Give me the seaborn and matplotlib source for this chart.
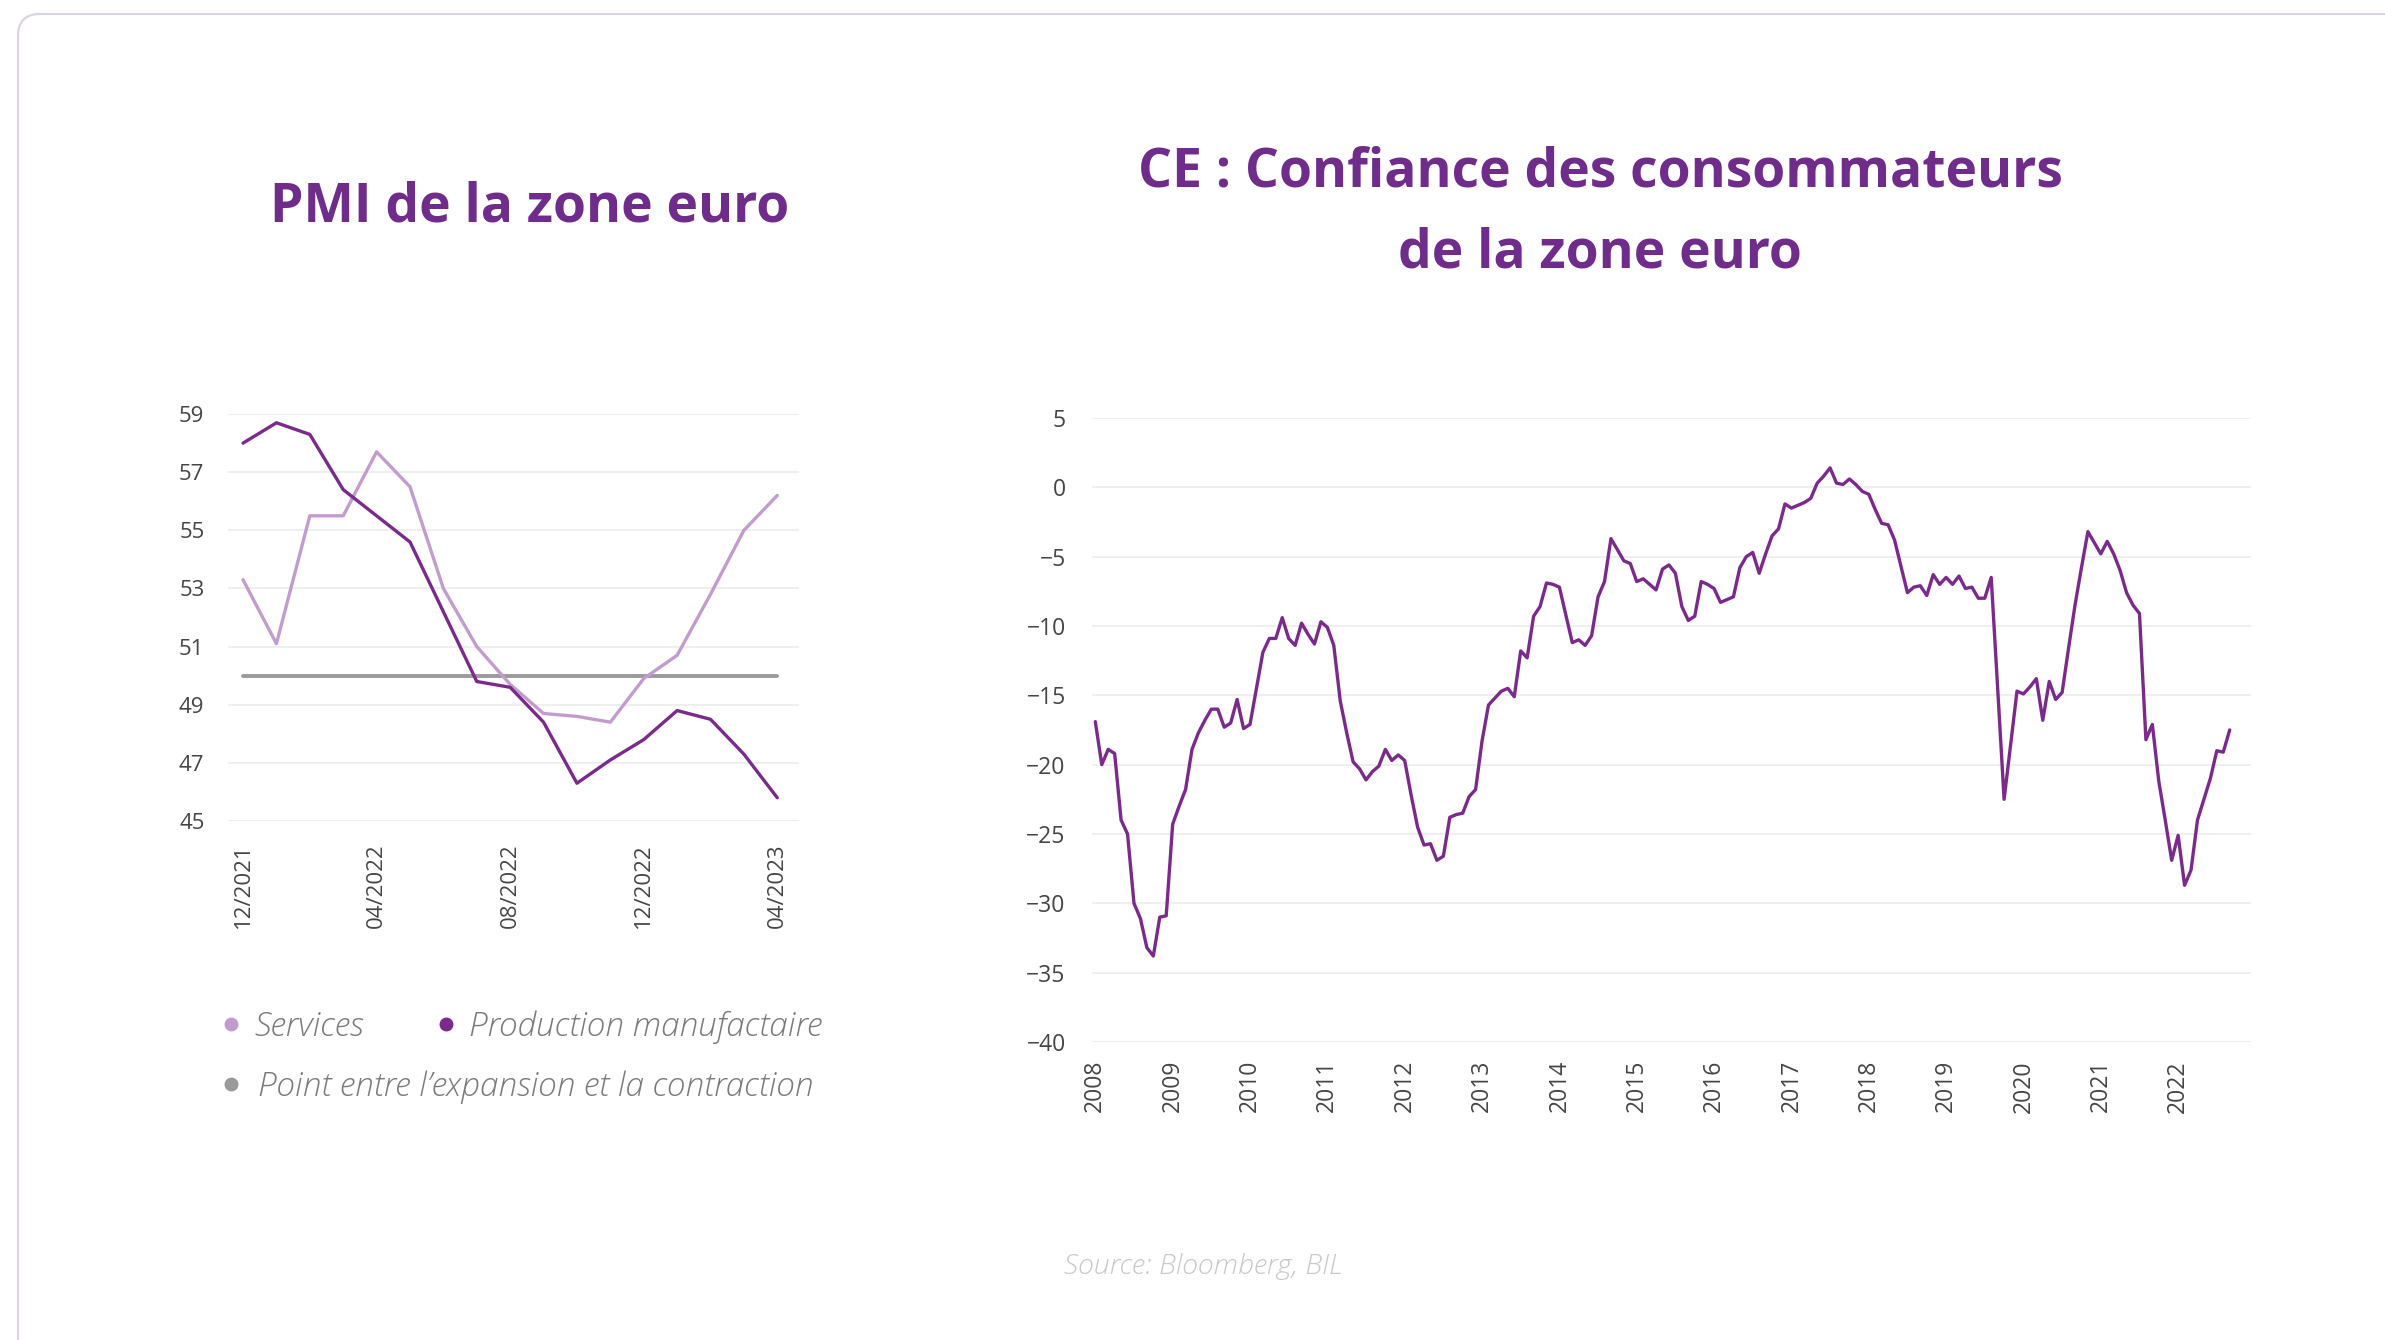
import matplotlib
matplotlib.use('Agg')
import matplotlib.pyplot as plt
from matplotlib.lines import Line2D
from matplotlib.patches import FancyBboxPatch
import seaborn as sns
import pandas as pd

# PMI de la zone euro (mensuel)
mois = ['12/2021', '01/2022', '02/2022', '03/2022', '04/2022', '05/2022', '06/2022',
        '07/2022', '08/2022', '09/2022', '10/2022', '11/2022', '12/2022', '01/2023',
        '02/2023', '03/2023', '04/2023']
services = [53.3, 51.1, 55.5, 55.5, 57.7, 56.5, 53.0, 51.0, 49.7, 48.7, 48.6, 48.4,
            49.9, 50.7, 52.8, 55.0, 56.2]
production = [58.0, 58.7, 58.3, 56.4, 55.5, 54.6, 52.2, 49.8, 49.6, 48.4, 46.3, 47.1,
              47.8, 48.8, 48.5, 47.3, 45.8]
seuil = [50, 50, 50, 50, 50, 50, 50, 50, 50, 50, 50, 50, 50, 50, 50, 50, 50]

# CE : confiance des consommateurs (mensuel, un point par mois)
annees = ['2008', '2009', '2010', '2011', '2012', '2013', '2014', '2015', '2016',
          '2017', '2018', '2019', '2020', '2021', '2022']
confiance = [
    -16.9, -20.0, -18.9, -19.2, -24.0, -25.0, -30.0, -31.1, -33.2, -33.8, -31.0, -30.9,
    -24.3, -23.0, -21.8, -18.9, -17.7, -16.8, -16.0, -16.0, -17.3, -17.0, -15.3, -17.4,
    -17.1, -14.5, -11.9, -10.9, -10.9, -9.4, -10.9, -11.4, -9.8, -10.6, -11.3, -9.7,
    -10.1, -11.4, -15.4, -17.7, -19.8, -20.3, -21.1, -20.5, -20.1, -18.9, -19.7, -19.3,
    -19.7, -22.2, -24.5, -25.8, -25.7, -26.9, -26.6, -23.8, -23.6, -23.5, -22.3, -21.8,
    -18.3, -15.7, -15.2, -14.7, -14.5, -15.1, -11.8, -12.3, -9.3, -8.6, -6.9, -7.0,
    -7.2, -9.2, -11.2, -11.0, -11.4, -10.7, -7.9, -6.8, -3.7, -4.5, -5.3, -5.5,
    -6.8, -6.6, -7.0, -7.4, -5.9, -5.6, -6.2, -8.6, -9.6, -9.3, -6.8, -7.0,
    -7.3, -8.3, -8.1, -7.9, -5.8, -5.0, -4.7, -6.2, -4.8, -3.5, -3.0, -1.2,
    -1.5, -1.3, -1.1, -0.8, 0.3, 0.8, 1.4, 0.3, 0.2, 0.6, 0.2, -0.3,
    -0.5, -1.6, -2.6, -2.7, -3.8, -5.7, -7.6, -7.2, -7.1, -7.8, -6.3, -7.0,
    -6.5, -7.0, -6.4, -7.3, -7.2, -8.0, -8.0, -6.5, -14.5, -22.5, -18.6, -14.7,
    -14.9, -14.4, -13.8, -16.8, -14.0, -15.3, -14.8, -11.6, -8.5, -5.8, -3.2, -4.0,
    -4.8, -3.9, -4.8, -6.0, -7.6, -8.5, -9.1, -18.2, -17.1, -21.2, -24.0, -26.9,
    -25.1, -28.7, -27.6, -24.0, -22.5, -21.0, -19.0, -19.1, -17.5]

violet = '#7b2a8c'
violet_clair = '#c39ccf'
gris = '#9a9a9a'
titre_col = '#6f2c8b'
texte = '#454545'

sns.set_theme(style='white')
plt.rcParams['font.family'] = ['Open Sans', 'DejaVu Sans']

fig = plt.figure(figsize=(23.85, 13.40), dpi=100)

# cadre arrondi
cadre = FancyBboxPatch((18, -60), 2420, 1326 + 60, boxstyle='round,pad=0,rounding_size=22',
                       transform=None, fill=False, edgecolor='#ddd0e6', linewidth=1.5)
fig.patches.append(cadre)

# ---- graphique de gauche : PMI
ax1 = fig.add_axes([0.0956, 0.3873, 0.2394, 0.3037])
pmi = pd.DataFrame({'i': range(len(mois)), 'services': services,
                    'production': production, 'seuil': seuil})
sns.lineplot(data=pmi, x='i', y='seuil', color=gris, lw=2.8, ax=ax1)
sns.lineplot(data=pmi, x='i', y='services', color=violet_clair, lw=2.4, ax=ax1)
sns.lineplot(data=pmi, x='i', y='production', color=violet, lw=2.4, ax=ax1)
ax1.set_ylim(45, 59)
ax1.set_yticks(range(45, 60, 2))
ax1.set_xlim(-0.45, 16.65)
ax1.set_xticks(range(0, len(mois), 4))
ax1.set_xticklabels(mois[::4], rotation=90)
ax1.set_xlabel('')
ax1.set_ylabel('')
ax1.grid(axis='y', color='#ececec', lw=1.2)
ax1.grid(axis='x', visible=False)
sns.despine(ax=ax1, left=True, bottom=True)
ax1.tick_params(axis='both', length=0, labelsize=16, labelcolor=texte)
ax1.tick_params(axis='y', pad=17)
ax1.tick_params(axis='x', pad=16)

fig.text(0.222, 0.845, 'PMI de la zone euro', ha='center', va='center',
         fontsize=38.5, fontweight='bold', color=titre_col)

# légende
h_serv = Line2D([], [], marker='o', ls='none', color=violet_clair, markersize=9)
h_prod = Line2D([], [], marker='o', ls='none', color=violet, markersize=9)
h_seuil = Line2D([], [], marker='o', ls='none', color=gris, markersize=9)
leg_style = dict(frameon=False, loc='center left', handlelength=0.5,
                 borderpad=0, borderaxespad=0,
                 prop={'size': 24, 'style': 'italic', 'weight': 'light'},
                 labelcolor='#7a7a7a')
leg1 = fig.legend([h_serv, h_prod], ['Services', 'Production manufactaire'], ncol=2,
                  columnspacing=2.2, handletextpad=0.45,
                  bbox_to_anchor=(0.0935, 0.2337), **leg_style)
leg2 = fig.legend([h_seuil], ["Point entre l\u2019expansion et la contraction"],
                  handletextpad=0.55, bbox_to_anchor=(0.0935, 0.1887), **leg_style)

# ---- graphique de droite : confiance des consommateurs
ax2 = fig.add_axes([0.4579, 0.2224, 0.4859, 0.4657])
conf = pd.DataFrame({'i': range(len(confiance)), 'confiance': confiance})
sns.lineplot(data=conf, x='i', y='confiance', color=violet, lw=2.4, ax=ax2)
ax2.set_ylim(-40, 5)
ax2.set_yticks(range(-40, 6, 5))
ax2.set_xlim(-0.5, 179.3)
ax2.set_xticks(range(0, 12 * len(annees), 12))
ax2.set_xticklabels(annees, rotation=90)
ax2.set_xlabel('')
ax2.set_ylabel('')
ax2.grid(axis='y', color='#ececec', lw=1.2)
ax2.grid(axis='x', visible=False)
sns.despine(ax=ax2, left=True, bottom=True)
ax2.tick_params(axis='both', length=0, labelsize=16.5, labelcolor=texte)
ax2.tick_params(axis='y', pad=19)
ax2.tick_params(axis='x', pad=13)

fig.text(0.671, 0.871, 'CE : Confiance des consommateurs', ha='center', va='center',
         fontsize=38.5, fontweight='bold', color=titre_col)
fig.text(0.671, 0.811, 'de la zone euro', ha='center', va='center',
         fontsize=38.5, fontweight='bold', color=titre_col)

fig.text(0.5044, 0.0545, 'Source: Bloomberg, BIL', ha='center', va='center',
         fontsize=20.5, style='italic', fontweight='light', color='#c8c8c8')

fig.savefig('out.png', dpi=100, facecolor='white')
